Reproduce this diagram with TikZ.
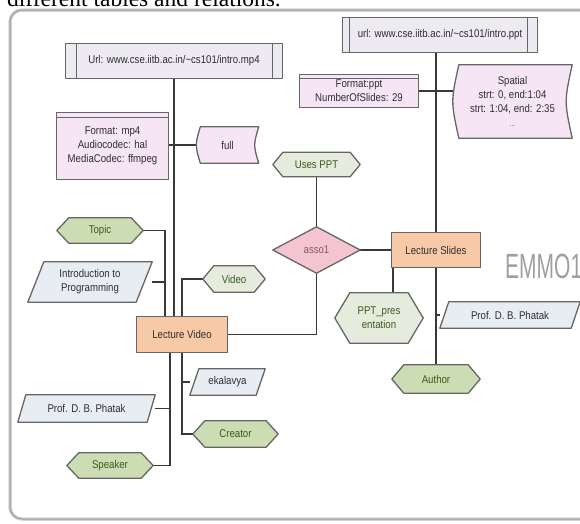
\documentclass[tikz,border=0pt]{standalone}
\usepackage{fontspec}
\setmainfont{Liberation Sans}
\newfontfamily\narrowsans[FakeStretch=0.86]{Liberation Sans}
\newfontfamily\tallsans[FakeStretch=0.6]{Liberation Sans}
\newfontfamily\pageserif{Liberation Serif}
\usetikzlibrary{calc}

\definecolor{ink}{HTML}{2E2E2E}
\definecolor{edge}{HTML}{666666}
\definecolor{linkc}{HTML}{383838}
\definecolor{urlfillc}{HTML}{EDEAF2}
\definecolor{pinkfillc}{HTML}{F6E6F5}
\definecolor{peachc}{HTML}{F8C9A6}
\definecolor{greenhexc}{HTML}{CCDDB3}
\definecolor{lighthexc}{HTML}{E6ECDD}
\definecolor{slantc}{HTML}{E8ECF3}
\definecolor{diamondc}{HTML}{F4C4D0}
\definecolor{greentext}{HTML}{3A5A1A}
\definecolor{diamondtext}{HTML}{8B5A66}
\definecolor{emmoc}{HTML}{A0A0A0}
\definecolor{framec}{HTML}{9A9A9A}

\pgfdeclarelayer{frame}
\pgfdeclarelayer{links}
\pgfdeclarelayer{shapes}
\pgfsetlayers{frame,links,shapes,main}

% outline helpers: each one draws a shape into the box of a named node
\newcommand\hexfill[3]{\path[#2] (#1.west) -- ($(#1.north west)+(#3,0)$) -- ($(#1.north east)+(-#3,0)$) -- (#1.east) -- ($(#1.south east)+(-#3,0)$) -- ($(#1.south west)+(#3,0)$) -- cycle;}
\newcommand\slantfill[3]{\path[#2] ($(#1.north west)+(#3,0)$) -- (#1.north east) -- ($(#1.south east)+(-#3,0)$) -- (#1.south west) -- cycle;}
\newcommand\diamondfill[2]{\path[#2] (#1.west) -- (#1.north) -- (#1.east) -- (#1.south) -- cycle;}
\newcommand\storefill[3]{\path[#2] ($(#1.north west)+(#3,0)$) -- (#1.north east) .. controls ($(#1.east)+({-4*#3/3},0)$) .. (#1.south east) -- ($(#1.south west)+(#3,0)$) .. controls ($(#1.west)+({-#3/3},0)$) .. ($(#1.north west)+(#3,0)$) -- cycle;}
\newcommand\urlfill[4]{\path[#2] (#1.north west) rectangle (#1.south east);
  \draw[#2,fill=none] ($(#1.north west)+(#3,0)$) -- ($(#1.south west)+(#3,0)$) ($(#1.north east)+(-#4,0)$) -- ($(#1.south east)+(-#4,0)$);}
\newcommand\recordfill[3]{\path[#2] (#1.north west) rectangle (#1.south east);
  \draw[#2,fill=none] ($(#1.north west)+(0,#3)$) -- ($(#1.north east)+(0,#3)$);}

\begin{document}
\begin{tikzpicture}[x=1pt,y=-1pt,
  lbl/.style={font=\narrowsans\fontsize{11.2}{14}\selectfont, text=ink, align=center, inner sep=0pt},
  greenlbl/.style={lbl, text=greentext},
  sz/.style 2 args={minimum width=#1pt, minimum height=#2pt},
  outline/.style={draw=edge, line width=1.3pt, line join=round},
  link/.style={draw=linkc, line width=1.4pt}]
\useasboundingbox (0,0) rectangle (580,523);

% page text and frame
\node[anchor=base west, inner sep=0pt, font=\pageserif\fontsize{23.5}{24}\selectfont] (caption) at (7,6) {different tables and relations.};
\begin{pgfonlayer}{frame}
  \fill[white] (0,0) rectangle (580,523);
  \draw[framec!45, line width=3.5pt, rounded corners=12pt] (10,10) rectangle (640,519);
  \draw[framec, line width=1pt, rounded corners=12pt] (10,10) rectangle (640,519);
\end{pgfonlayer}

% video side
\node[lbl, sz={216}{34}] (urlmp4) at (174,61) {Url: www.cse.iitb.ac.in/\textasciitilde cs101/intro.mp4};
\node[lbl, sz={111}{66}] (fmtmp4) at (112.5,146) {Format: mp4\\Audiocodec: hal\\MediaCodec: ffmpeg};
\node[lbl, sz={62}{36}] (full) at (227.5,145) {full};
\node[greenlbl, sz={86}{25}] (topic) at (100,230.5) {Topic};
\node[lbl, sz={124}{40}] (intro) at (90,282) {Introduction to\\Programming};
\node[greenlbl, sz={62}{26}] (video) at (234,279) {Video};
\node[lbl, sz={90}{35}] (lv) at (182,334.5) {Lecture Video};
\node[lbl, sz={75}{26}] (ekalavya) at (227.5,382) {ekalavya};
\node[greenlbl, sz={85}{26}] (creator) at (235.5,434) {Creator};
\node[lbl, sz={137}{27}] (profL) at (86.5,408.5) {Prof. D. B. Phatak};
\node[greenlbl, sz={86}{25}] (speaker) at (110,465.5) {Speaker};

% slides side
\node[lbl, sz={194}{34}] (urlppt) at (440,35) {url: www.cse.iitb.ac.in/\textasciitilde cs101/intro.ppt};
\node[lbl, sz={118}{32}] (fmtppt) at (359,91) {Format:ppt\\NumberOfSlides: 29};
\node[lbl, sz={119}{73}] (spatial) at (512.5,101.5) {Spatial\\strt: 0, end:1:04\\strt: 1:04, end: 2:35\\{\fontsize{7}{8}\selectfont ...}};
\node[greenlbl, sz={87}{24}] (usesppt) at (316.5,164.5) {Uses PPT};
\node[lbl, text=diamondtext, sz={87}{46}] (asso1) at (316.5,250) {asso1};
\node[lbl, sz={88}{34}] (ls) at (436,250) {Lecture Slides};
\node[greenlbl, sz={88}{50}] (pptpres) at (379,318) {PPT\_pres\\entation};
\node[lbl, sz={140}{26}] (profR) at (510,315) {Prof. D. B. Phatak};
\node[greenlbl, sz={88}{28}] (author) at (436,379) {Author};
\node[anchor=base west, inner sep=0pt, text=emmoc, font=\tallsans\fontsize{35}{35}\selectfont] (emmo) at (505,278) {EMMO1};

% shape outlines
\begin{pgfonlayer}{shapes}
  \urlfill{urlmp4}{outline, fill=urlfillc}{11}{10}
  \urlfill{urlppt}{outline, fill=urlfillc}{7}{10}
  \recordfill{fmtmp4}{outline, fill=pinkfillc}{5}
  \recordfill{fmtppt}{outline, fill=pinkfillc}{4}
  \storefill{full}{outline, fill=pinkfillc}{4}
  \storefill{spatial}{outline, fill=pinkfillc}{6}
  \path[outline, fill=peachc] (lv.north west) rectangle (lv.south east);
  \path[outline, fill=peachc] (ls.north west) rectangle (ls.south east);
  \diamondfill{asso1}{outline, fill=diamondc}
  \hexfill{usesppt}{outline, fill=lighthexc}{10}
  \hexfill{video}{outline, fill=lighthexc}{11}
  \hexfill{pptpres}{outline, fill=lighthexc}{15}
  \hexfill{topic}{outline, fill=greenhexc}{12}
  \hexfill{author}{outline, fill=greenhexc}{12}
  \hexfill{creator}{outline, fill=greenhexc}{12}
  \hexfill{speaker}{outline, fill=greenhexc}{12}
  \slantfill{intro}{outline, fill=slantc}{16}
  \slantfill{ekalavya}{outline, fill=slantc}{9}
  \slantfill{profL}{outline, fill=slantc}{8}
  \slantfill{profR}{outline, fill=slantc}{9}
\end{pgfonlayer}

% connectors
\begin{pgfonlayer}{links}
  \coordinate (lvTL) at ($(lv.north west)+(28,0)$);
  \coordinate (lvBL) at ($(lv.south west)+(33,0)$);
  \coordinate (lsBL) at ($(ls.south west)+(1,0)$);
  \draw[link] (urlmp4.south) -- (urlmp4.south |- lv.north);
  \draw[link] (fmtmp4.east |- full.west) -- (full.west);
  \draw[link] (topic.east) -| (lvTL);
  \draw[link] (intro.east) -- (intro.east -| lvTL);
  \draw[link] (video.west) -| (lv.north);
  \draw[link] (usesppt.south) -- (asso1.north);
  \draw[link] (asso1.east) -- (ls.west);
  \draw[link] (asso1.south) |- (lv.east);
  \draw[link] (urlppt.south -| ls.north) -- (ls.north);
  \draw[link] (fmtppt.east) -- (fmtppt.east -| spatial.west);
  \draw[link] (ls.south) -- (author.north);
  \draw[link] (profR.west) -- (profR.west -| ls.south);
  \draw[link] (lsBL) -- (lsBL |- pptpres.north);
  \draw[link] (lvBL) |- (speaker.east);
  \draw[link] (profL.east) -- (profL.east -| lvBL);
  \draw[link] (lv.south) |- (creator.west);
  \draw[link] (ekalavya.west) -- (ekalavya.west -| lv.south);
\end{pgfonlayer}
\end{tikzpicture}
\end{document}
